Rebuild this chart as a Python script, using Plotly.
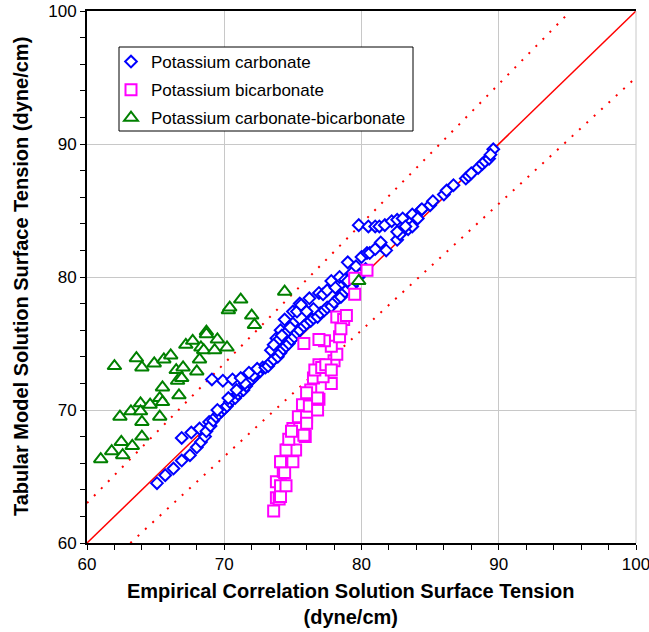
import numpy as np
import plotly.graph_objects as go

# Potassium carbonate solutions: (empirical correlation, tabular model) surface tension
carbonate_x = [65.1, 65.7, 66.3, 66.9, 67.5, 68.0, 68.3, 68.6, 66.9, 67.6, 68.2, 68.9,
               68.7, 69.0, 69.2, 69.4, 69.6, 69.8, 70.0, 70.2, 70.4, 70.6, 70.8, 71.0,
               71.2, 71.4, 71.6, 71.8, 72.0, 72.2, 72.4, 72.6, 72.8, 70.3, 70.9, 71.5,
               72.1, 69.5,
               69.1, 69.9, 70.6, 71.2, 71.8, 72.4,
               73.0, 73.2, 73.4, 73.6, 73.9, 74.1, 74.3, 74.5, 74.7, 74.9, 75.1, 75.3,
               75.5, 75.8, 76.0, 76.3, 76.5, 76.8, 77.0, 77.3, 77.5, 77.8, 78.0, 78.3,
               78.5, 78.8, 79.0, 79.3, 79.6, 79.8, 80.0, 80.3,
               73.4, 73.8, 74.1, 74.0, 74.4, 74.5, 75.0, 75.0, 75.3, 75.5, 75.6, 76.2,
               76.5, 76.9, 77.2, 77.5, 77.8, 78.1, 78.4, 78.8, 79.0, 79.3, 79.6, 80.0,
               80.4, 74.8, 76.0, 73.6, 74.2, 79.0,
               79.8, 80.5, 81.0, 81.3, 81.7, 82.2, 82.6, 83.0, 83.7, 84.3, 85.0, 85.2,
               80.6, 81.0, 81.4, 81.8, 82.6, 82.8, 83.4, 83.7, 84.1, 84.4, 82.6, 83.2,
               86.0, 86.2, 86.7, 87.6, 87.8, 88.0, 88.5, 88.8, 89.0, 89.3, 89.6, 89.4]
carbonate_y = [64.5, 65.1, 65.6, 66.2, 66.6, 67.2, 67.6, 68.0, 67.9, 68.3, 68.6, 69.1,
               68.4, 68.8, 69.2, 69.5, 69.7, 69.9, 70.1, 70.3, 70.6, 70.8, 70.9, 71.2,
               71.4, 71.5, 71.8, 72.1, 72.3, 72.5, 72.8, 72.9, 73.2, 70.9, 71.5, 72.0,
               72.6, 70.0,
               72.3, 72.2, 72.3, 72.4, 72.8, 73.1,
               73.2, 73.3, 73.6, 73.8, 74.0, 74.3, 74.6, 74.8, 75.0, 75.3, 75.5, 75.8,
               76.0, 76.3, 76.5, 76.7, 76.9, 77.0, 77.3, 77.5, 77.7, 77.8, 78.1, 78.4,
               78.5, 78.9, 79.1, 79.3, 79.7, 80.0, 80.3, 80.6,
               74.5, 75.4, 76.0, 75.3, 76.8, 75.8, 76.5, 77.4, 77.4, 78.0, 77.9, 78.4,
               77.6, 78.8, 78.7, 79.0, 79.7, 79.2, 80.0, 79.8, 79.7, 80.3, 80.8, 81.5,
               81.8, 76.2, 77.4, 74.9, 75.6, 81.1,
               83.9, 83.8, 83.8, 83.8, 83.9, 84.2, 84.3, 84.4, 84.7, 85.0, 85.4, 85.7,
               81.8, 82.1, 82.6, 82.0, 82.8, 83.2, 83.6, 83.8, 84.4, 85.1, 83.4, 83.8,
               86.2, 86.5, 86.9, 87.4, 87.6, 87.8, 88.2, 88.5, 88.7, 88.9, 89.6, 89.2]

# Potassium bicarbonate solutions
bicarbonate_x = [73.6, 73.8, 74.0, 74.1, 73.8, 74.1, 74.5, 74.3, 74.4, 74.2, 75.0, 74.1,
                 74.6, 75.2, 74.5, 74.7, 75.9, 75.0, 75.5, 74.9, 75.8, 75.4, 76.0, 76.0,
                 75.7, 76.2, 76.8, 76.2, 76.9, 76.3, 76.0, 76.8, 76.5, 77.8, 77.2, 77.6,
                 78.0, 76.9, 76.6, 77.1, 77.4, 77.8, 78.2, 77.8, 77.3, 76.9, 75.8, 78.4,
                 78.2, 78.7, 78.9, 78.5, 79.5, 79.5, 80.4]
bicarbonate_y = [62.4, 63.4, 63.3, 63.5, 64.6, 64.3, 64.3, 65.4, 65.3, 66.1, 66.1, 66.1,
                 67.0, 67.0, 67.0, 67.8, 68.0, 68.6, 68.6, 68.4, 68.1, 69.5, 69.5, 69.0,
                 70.4, 70.3, 70.0, 71.2, 70.8, 71.5, 71.3, 70.9, 72.4, 72.0, 72.5, 73.3,
                 73.7, 73.4, 73.0, 73.2, 73.4, 73.0, 74.2, 74.8, 75.2, 75.3, 75.0, 75.5,
                 77.0, 76.8, 77.1, 76.1, 78.7, 79.9, 80.5]

# Potassium carbonate-bicarbonate solutions
mixed_x = [61.0, 61.8, 62.6, 62.5, 63.3, 64.0, 62.4, 63.2, 63.9, 64.0, 63.9, 64.6,
           65.3, 65.3, 65.5, 65.5, 66.7, 62.0, 63.6, 64.0, 64.9, 65.6, 66.1, 66.5,
           67.0, 66.6, 66.9, 67.2, 67.7, 68.3, 68.7, 68.7, 68.5, 68.2, 68.0, 69.5,
           69.3, 70.2, 70.3, 70.4, 71.2, 72.0, 72.2, 74.4, 79.8]
mixed_y = [66.3, 66.9, 66.6, 67.6, 67.3, 68.0, 69.5, 69.9, 70.5, 69.1, 69.9, 70.4,
           69.5, 70.9, 70.6, 71.7, 71.1, 73.3, 73.9, 73.2, 73.5, 73.8, 74.1, 73.0,
           73.2, 72.2, 72.4, 74.9, 75.2, 74.7, 75.9, 75.7, 74.5, 73.8, 72.9, 75.3,
           74.5, 74.7, 77.5, 77.7, 78.3, 77.1, 76.4, 78.9, 79.7]

# Parity line and +/-5 % bands
axis_range = [60, 100]
band = 0.05

BLUE, MAGENTA, GREEN, RED = "#0000FF", "#FF00FF", "#008000", "#FF0000"
FONT = "Liberation Sans, Arial, sans-serif"

fig = go.Figure()

lo, hi = axis_range
parity = np.array([lo, hi], dtype=float)
fig.add_trace(go.Scatter(x=parity, y=parity, mode="lines",
                         line=dict(color=RED, width=1.5), showlegend=False,
                         hoverinfo="skip"))
upper_x = np.array([lo, hi / (1 + band)])
fig.add_trace(go.Scatter(x=upper_x, y=upper_x * (1 + band), mode="lines",
                         line=dict(color=RED, width=2, dash="2px,8px"),
                         showlegend=False, hoverinfo="skip"))
lower_x = np.array([lo / (1 - band), hi])
fig.add_trace(go.Scatter(x=lower_x, y=lower_x * (1 - band), mode="lines",
                         line=dict(color=RED, width=2, dash="2px,8px"),
                         showlegend=False, hoverinfo="skip"))

fig.add_trace(go.Scatter(
    x=carbonate_x, y=carbonate_y, mode="markers", name="Potassium carbonate",
    legendgroup="a",
    marker=dict(symbol="diamond", size=9, color="white",
                line=dict(color=BLUE, width=2))))
fig.add_trace(go.Scatter(
    x=bicarbonate_x, y=bicarbonate_y, mode="markers", name="Potassium bicarbonate",
    legendgroup="b",
    marker=dict(symbol="square", size=11, color="white",
                line=dict(color=MAGENTA, width=2))))
fig.add_trace(go.Scatter(
    x=mixed_x, y=mixed_y, mode="markers", name="Potassium carbonate-bicarbonate",
    legendgroup="c",
    marker=dict(symbol="triangle-up", size=12, color="white",
                line=dict(color=GREEN, width=2))))

axis_common = dict(
    range=axis_range, dtick=10, tick0=60,
    showgrid=True, gridcolor="#C8C8C8", gridwidth=1,
    showline=True, linecolor="black", linewidth=2,
    ticks="outside", ticklen=5, tickcolor="black", tickwidth=1,
    minor=dict(dtick=2, ticks="outside", ticklen=5, tickcolor="black",
               tickwidth=1, showgrid=False),
    tickfont=dict(family=FONT, size=17, color="black"),
    ticklabeloverflow="allow", automargin=False,
    zeroline=False, fixedrange=True,
)

# Legend frame in pixel terms, converted to paper coordinates
W, H = 649, 632
ML, MR, MT, MB = 87, 13, 11, 89
PW, PH = W - ML - MR, H - MT - MB


def px_x(p):
    return (p - ML) / PW


def px_y(p):
    return 1 - (p - MT) / PH


fig.update_layout(
    width=W, height=H,
    margin=dict(l=ML, r=MR, t=MT, b=MB, autoexpand=False),
    paper_bgcolor="white", plot_bgcolor="white",
    xaxis=dict(**axis_common, mirror=True),
    yaxis=dict(**axis_common),
    showlegend=True,
    legend=dict(
        x=px_x(111), y=px_y(44), xanchor="left", yanchor="top",
        bgcolor="rgba(0,0,0,0)", borderwidth=0,
        font=dict(family=FONT, size=17, color="black"),
        traceorder="grouped", tracegroupgap=3, itemwidth=30,
    ),
    annotations=[
        dict(text="<b>Empirical Correlation Solution Surface Tension</b><br><b>(dyne/cm)</b>",
             xref="paper", yref="paper", x=0.5, y=0, xanchor="center",
             yanchor="top", yshift=-35, xshift=-11, showarrow=False,
             font=dict(family=FONT, size=20, color="black")),
        dict(text="<b>Tabular Model Solution Surface Tension (dyne/cm)</b>",
             xref="paper", yref="paper", x=0, y=0.5, xanchor="center",
             yanchor="middle", xshift=-66, textangle=-90, showarrow=False,
             font=dict(family=FONT, size=20, color="black")),
    ],
    shapes=[
        dict(type="line", xref="paper", yref="paper", x0=1, x1=1, y0=0, y1=1,
             line=dict(color="#C8C8C8", width=1)),
        dict(type="rect", xref="paper", yref="paper", layer="above",
             x0=px_x(119), x1=px_x(413), y0=px_y(131), y1=px_y(47),
             fillcolor="white", line=dict(color="black", width=1)),
    ],
)

fig.write_html("out.html")
